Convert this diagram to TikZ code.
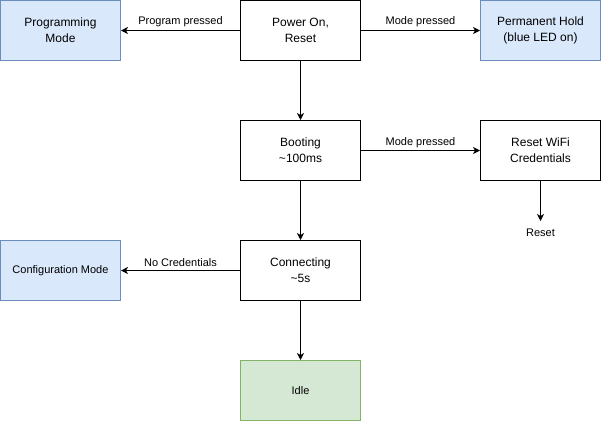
\documentclass[tikz,border=0pt]{standalone}
\usepackage{fontspec}
\setmainfont{Liberation Sans}
\usetikzlibrary{arrows.meta}
\definecolor{bluefill}{HTML}{DAE8FC}
\definecolor{blueline}{HTML}{6C8EBF}
\definecolor{greenfill}{HTML}{D5E8D4}
\definecolor{greenline}{HTML}{82B366}
\begin{document}
\begin{tikzpicture}[x=1pt,y=-1pt,
  box/.style={draw=black,line width=1pt,minimum width=120pt,minimum height=60pt,align=center,inner sep=0pt,font=\fontsize{12}{16}\selectfont},
  bluebox/.style={box,draw=blueline,fill=bluefill},
  greenbox/.style={box,draw=greenline,fill=greenfill},
  lbl/.style={font=\fontsize{11}{13}\selectfont,inner sep=0pt},
  arr/.style={draw=black,line width=1pt,-{Stealth[length=7pt,width=7pt,inset=2pt]}}]
\useasboundingbox (0,0) rectangle (601,421);
\node[bluebox] (prog) at (60.5,30.5) {Programming\\Mode};
\node[box] (power) at (300.5,30.5) {Power On,\\Reset};
\node[bluebox] (hold) at (540.5,30.5) {Permanent Hold\\(blue LED on)};
\node[box] (boot) at (300.5,150.5) {Booting\\\textasciitilde100ms};
\node[box] (wifi) at (540.5,150.5) {Reset WiFi\\Credentials};
\node[lbl] (reset) at (540.5,232.5) {Reset};
\coordinate (resetin) at (540.5,221);
\node[bluebox,font=\fontsize{11}{13}\selectfont] (config) at (60.5,270.5) {Configuration Mode};
\node[box] (conn) at (300.5,270.5) {Connecting\\\textasciitilde5s};
\node[greenbox,font=\fontsize{11}{13}\selectfont] (idle) at (300.5,390.5) {Idle};
\draw[arr] (power) -- (prog);
\draw[arr] (power) -- (hold);
\draw[arr] (power) -- (boot);
\draw[arr] (boot) -- (wifi);
\draw[arr] (wifi) -- (resetin);
\draw[arr] (boot) -- (conn);
\draw[arr] (conn) -- (config);
\draw[arr] (conn) -- (idle);
\node[lbl] (l1) at (180.5,21.5) {Program pressed};
\node[lbl] (l2) at (420.5,21.5) {Mode pressed};
\node[lbl] (l3) at (420.5,142.5) {Mode pressed};
\node[lbl] (l4) at (180.5,263) {No Credentials};
\end{tikzpicture}
\end{document}
